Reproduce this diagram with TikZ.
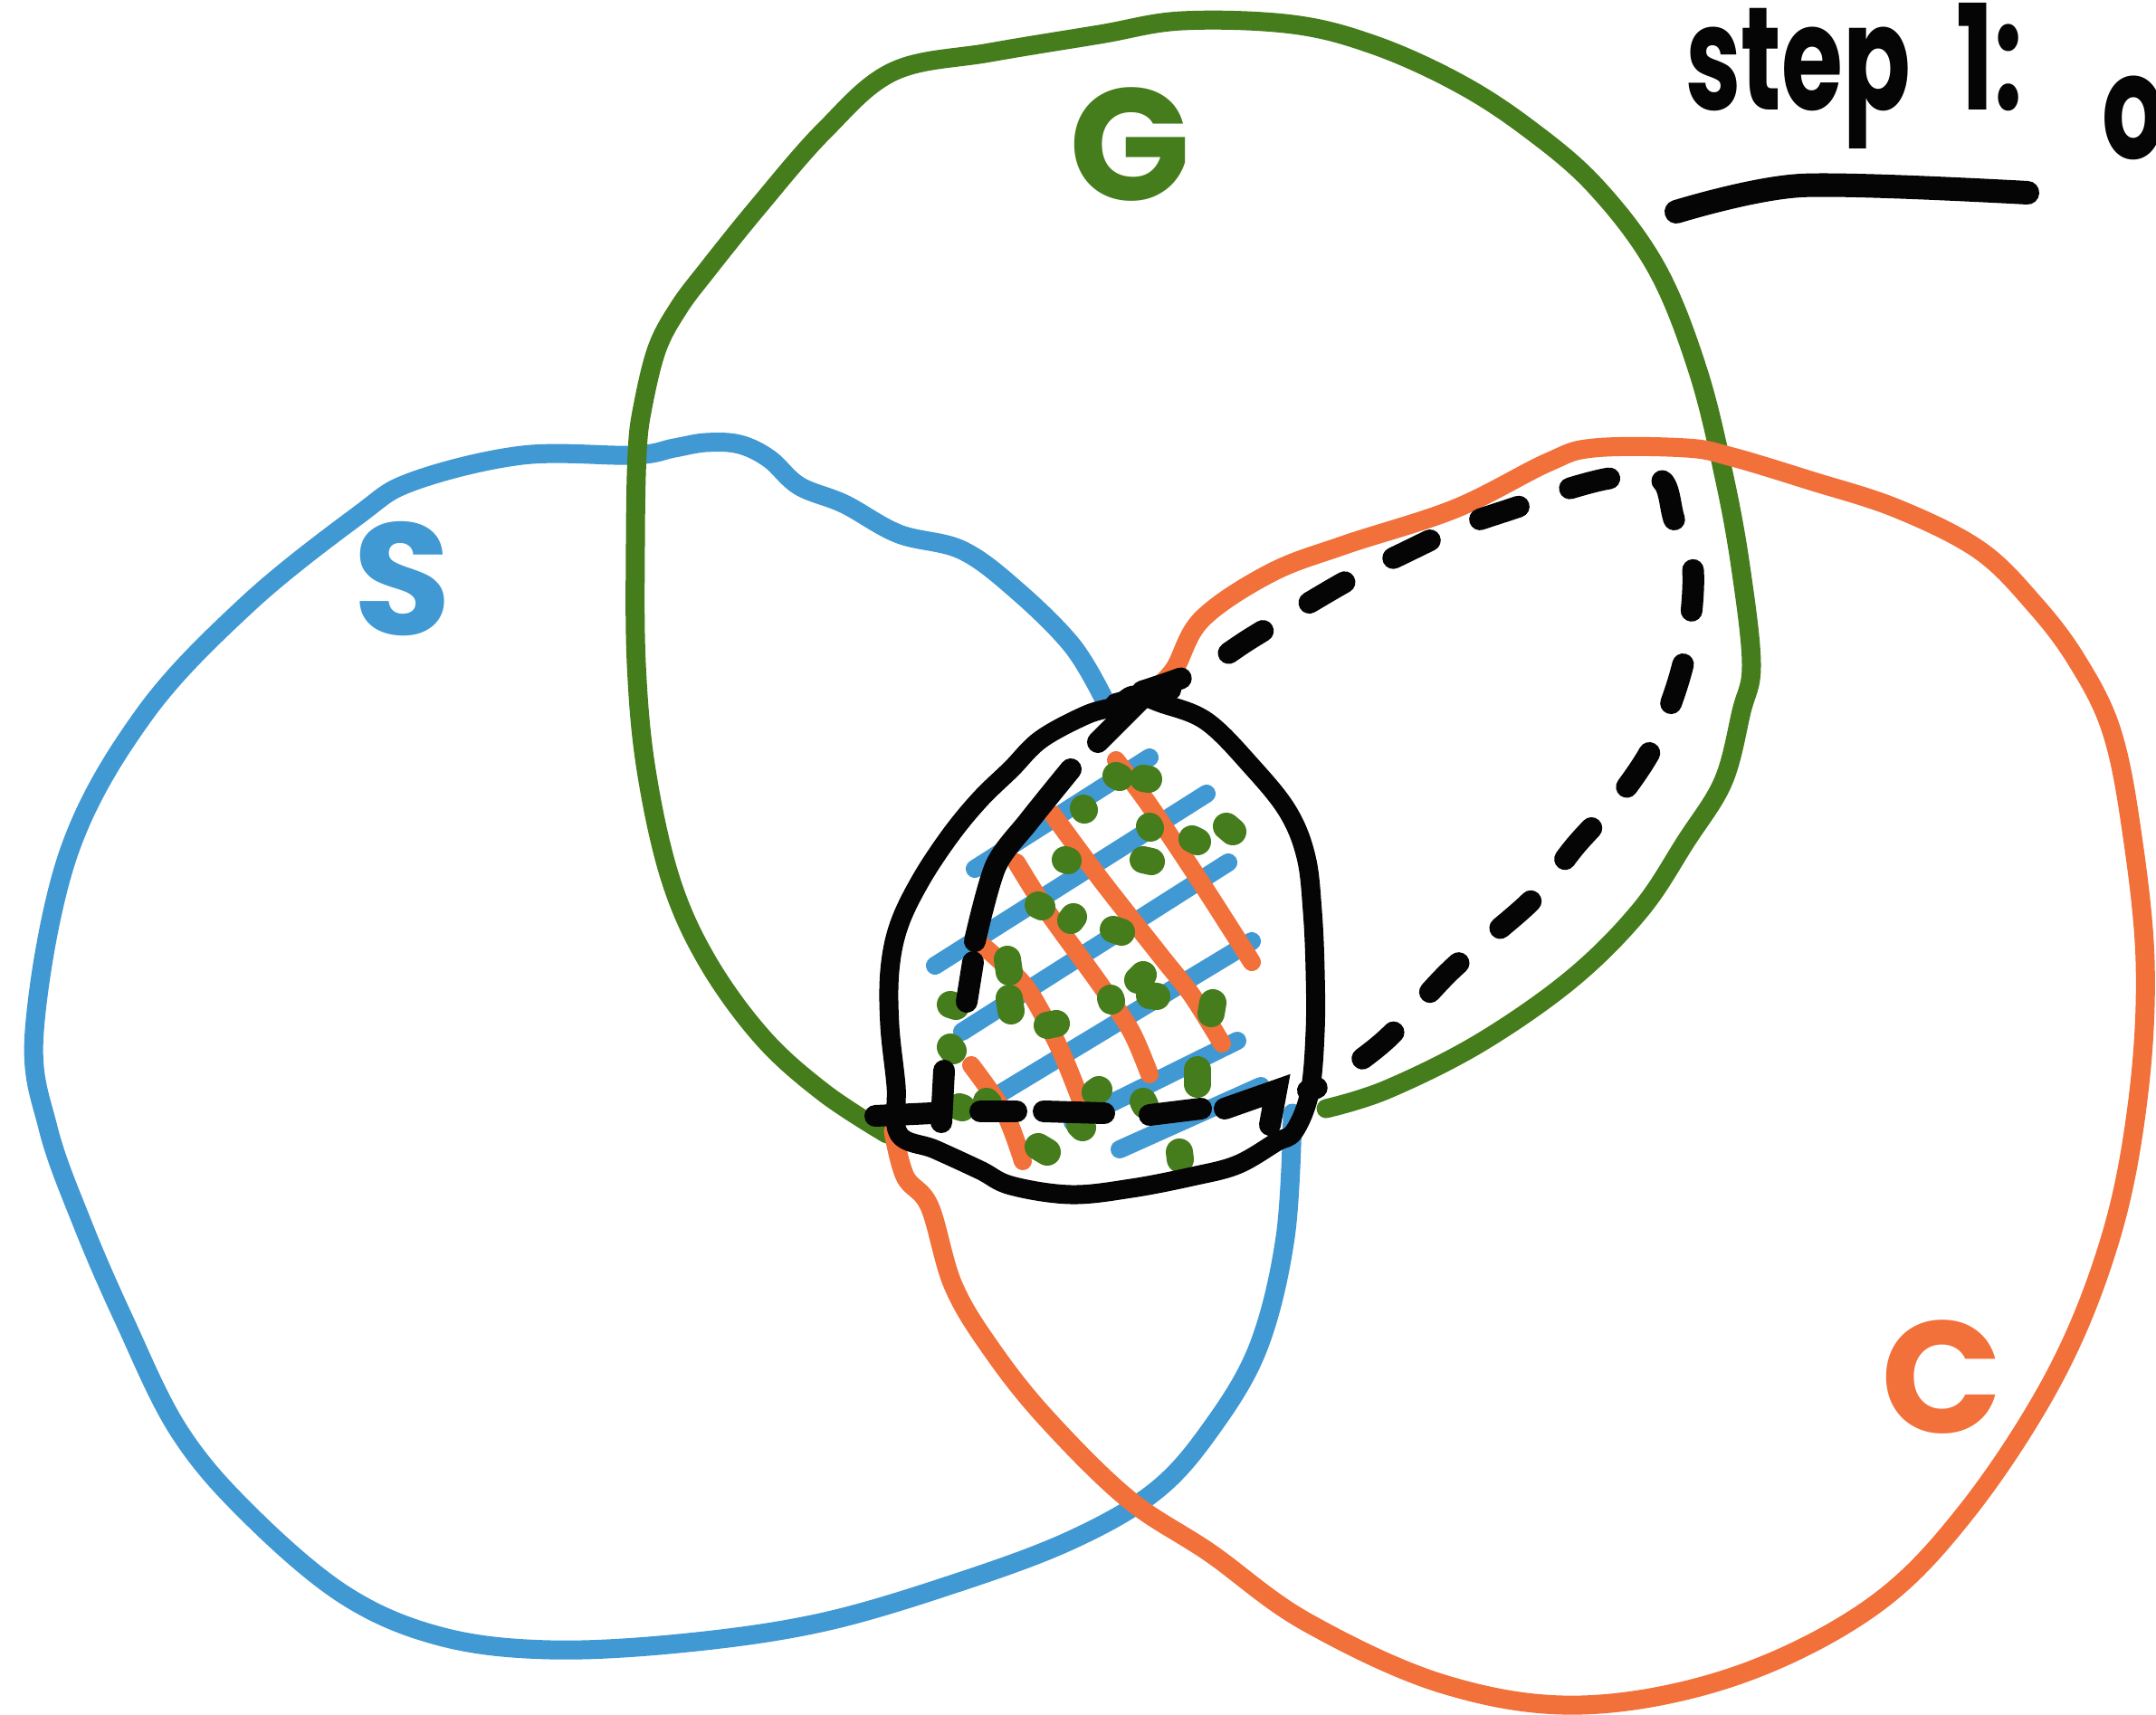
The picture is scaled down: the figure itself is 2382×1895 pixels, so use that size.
\documentclass[tikz,border=0pt]{standalone}
\usepackage{fontspec}
\setmainfont{Poppins}
\definecolor{ink}{HTML}{050505}
\definecolor{setblue}{HTML}{4199D4}
\definecolor{setgreen}{HTML}{467D1C}
\definecolor{setorange}{HTML}{F2703A}

\begin{document}
\begin{tikzpicture}[
  x=0.01cm,y=-0.01cm,
  outline/.style={line width=2.1mm,line cap=round,line join=round},
  setS/.style={outline,draw=setblue},
  setG/.style={outline,draw=setgreen},
  setC/.style={outline,draw=setorange},
  lens/.style={line width=2.1mm,line cap=round,line join=round,draw=ink},
  dashpiece/.style={line width=2.4mm,line cap=round,draw=ink},
  dashloop/.style={line width=2.4mm,line cap=round,draw=ink,dash pattern=on 4.5mm off 6mm},
  hatchS/.style={line width=2mm,line cap=round,draw=setblue},
  hatchC/.style={line width=2mm,line cap=round,draw=setorange},
  dotG/.style={line width=3mm,line cap=round,draw=setgreen},
  setlabel/.style={font=\bfseries\fontsize{50}{54}\selectfont,inner sep=0pt},
  steplabel/.style={font=\bfseries\fontsize{46}{50}\selectfont,text=ink,inner sep=0pt,
    xscale=0.68,transform shape}
]
\useasboundingbox (0,0) rectangle (2382,1895);
\clip (0,0) rectangle (2382,1895);

% the three sets
\draw[setS] plot[smooth,tension=0.6] coordinates {(1220,773) (1185,714) (1124,653)
  (1063,608) (993,590) (933,557) (883,537) (850,507) (817,491) (780,489) (745,495)
  (700,503) (577,503) (456,532) (395,570) (273,668) (159,790) (76,942) (38,1139)
  (53,1246) (91,1352) (137,1458) (197,1580) (273,1671) (380,1762) (486,1808) (608,1823)
  (760,1815) (911,1792) (1063,1747) (1185,1701) (1276,1648) (1337,1580) (1390,1489)
  (1420,1367) (1428,1230)};
\draw[setG] plot[smooth,tension=0.6] coordinates {(980,1253) (911,1208) (843,1147)
  (782,1063) (741,972) (714,851) (703,733) (702,600) (704,500) (710,450) (726,385)
  (750,340) (780,300) (838,228) (911,144) (987,79) (1094,58) (1215,38) (1306,23)
  (1428,27) (1519,50) (1610,91) (1686,140) (1762,205) (1830,296) (1876,410) (1906,532)
  (1924,633) (1935,735) (1924,786) (1904,863) (1863,929) (1812,1006) (1736,1082)
  (1634,1153) (1532,1204) (1465,1225)};
\draw[setC] plot[smooth,tension=0.6] coordinates {(987,1250) (1000,1300) (1027,1333)
  (1053,1420) (1094,1489) (1154,1565) (1246,1656) (1337,1716) (1443,1792) (1595,1861)
  (1747,1884) (1914,1853) (2066,1777) (2172,1671) (2271,1519) (2332,1367) (2362,1215)
  (2370,1063) (2354,911) (2332,805) (2294,729) (2248,668) (2187,608) (2096,562)
  (2000,531) (1914,505) (1863,495) (1761,495) (1710,511) (1608,562) (1486,602)
  (1404,633) (1328,684) (1297,740) (1270,767)};

\node[setlabel,text=setblue] (labelS) at (445,640) {S};
\node[setlabel,text=setgreen] (labelG) at (1248,160) {G};
\node[setlabel,text=setorange] (labelC) at (2145,1522) {C};

% hatching of the centre
\foreach \ax/\ay/\bx/\by in {1077/960/1270/837, 1033/1067/1333/877, 1063/1140/1357/953,
  1107/1207/1383/1040, 1185/1240/1367/1150, 1237/1270/1393/1200}
  \draw[hatchS] (\ax,\ay) -- (\bx,\by);
\draw[hatchC] plot[smooth] coordinates {(1233,840) (1270,890) (1330,980) (1383,1063)};
\draw[hatchC] plot[smooth] coordinates {(1163,900) (1217,973) (1283,1057) (1317,1100) (1350,1153)};
\draw[hatchC] plot[smooth] coordinates {(1123,953) (1157,1007) (1217,1090) (1250,1140) (1270,1187)};
\draw[hatchC] plot[smooth] coordinates {(1080,1040) (1133,1090) (1170,1157) (1193,1213)};
\draw[hatchC] plot[smooth] coordinates {(1073,1177) (1110,1230) (1130,1283)};
\foreach \x/\y/\dx/\dy in {1233/857/4/2, 1263/860/6/1, 1197/893/1/2, 1270/913/1/2,
  1317/927/6/3, 1355/913/7/6, 1177/950/3/1, 1263/950/9/2, 1147/1000/4/2, 1183/1017/3/-4,
  1230/1027/9/3, 1113/1060/2/14, 1263/1077/-6/6, 1270/1100/8/1, 1227/1103/1/3,
  1340/1108/-2/12, 1050/1110/6/2, 1117/1117/-2/-14, 1157/1133/10/-2, 1050/1157/3/4,
  1323/1182/0/16, 1210/1207/4/-3, 1060/1223/3/1, 1090/1217/2/2, 1263/1217/2/4,
  1193/1243/3/3, 1147/1267/10/6, 1303/1273/1/8}
  \draw[dotG] (\x,\y) -- ++(\dx,\dy);

% outlined region and its parts
\draw[lens] plot[smooth cycle,tension=0.6] coordinates {(1253,768) (1283,777) (1333,797)
  (1383,847) (1423,897) (1443,947) (1450,1007) (1453,1073) (1453,1140) (1447,1207)
  (1430,1250) (1410,1262) (1367,1287) (1317,1300) (1250,1313) (1183,1320) (1117,1310)
  (1083,1293) (1033,1270) (993,1253) (990,1200) (983,1133) (983,1073) (993,1023)
  (1017,973) (1050,923) (1083,883) (1117,850) (1150,817) (1200,790) (1233,780)};
\draw[dashpiece] (1213,820) -- (1263,770);
\draw[dashpiece] (1233,778) -- (1293,762);
\draw[dashpiece] plot[smooth] coordinates {(1183,850) (1137,907) (1100,957) (1077,1040)};
\draw[dashpiece] (1075,1063) -- (1068,1107);
\draw[dashpiece] (1043,1183) -- (1040,1240);
\foreach \ax/\ay/\bx/\by in {967/1233/1030/1230, 1083/1228/1123/1228, 1153/1228/1220/1230,
  1270/1232/1327/1225}
  \draw[dashpiece] (\ax,\ay) -- (\bx,\by);
\draw[dashpiece] (1353,1225) -- (1410,1205) -- (1403,1243);
\draw[dashloop] plot[smooth,tension=0.55] coordinates {(1262,764) (1328,740) (1384,704)
  (1486,643) (1547,613) (1613,582) (1680,559) (1720,544) (1782,528) (1835,530)
  (1850,575) (1870,625) (1866,700) (1852,760) (1825,827) (1787,883) (1741,934)
  (1692,995) (1603,1072) (1532,1148) (1470,1194) (1445,1205)};

% heading
\node[steplabel,anchor=base west] (stepone) at (1862,122) {step\hspace{0.75cm}1:};
\node[steplabel,anchor=base west] (nextword) at (2322,176) {o};
\draw[line width=2.6mm,line cap=round,draw=ink] plot[smooth] coordinates {(1852,234) (1990,205) (2240,213)};
\end{tikzpicture}
\end{document}
